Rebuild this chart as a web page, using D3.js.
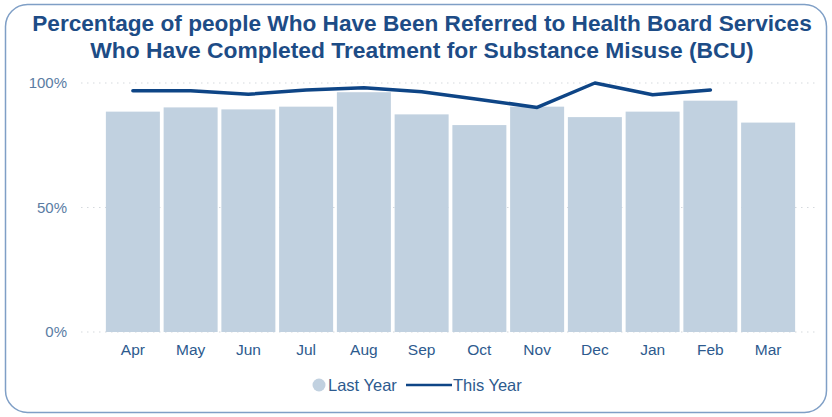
<!DOCTYPE html>
<html>
<head>
<meta charset="utf-8">
<script src="https://cdn.jsdelivr.net/npm/d3@7"></script>
<style>
  html, body { margin: 0; padding: 0; background: #ffffff; }
  svg { display: block; }
</style>
</head>
<body>
<svg id="chart" width="832" height="417"></svg>
<script>
// Monthly completion rates (%)
const months = ["Apr", "May", "Jun", "Jul", "Aug", "Sep", "Oct", "Nov", "Dec", "Jan", "Feb", "Mar"];
const lastYear = [88.5, 90.2, 89.4, 90.5, 96.3, 87.4, 83.1, 90.5, 86.3, 88.5, 92.9, 84.1];
const thisYear = [96.9, 96.9, 95.5, 97.2, 98.1, 96.5, 93.4, 90.2, 100, 95.3, 97.2, null];
const yTicks = [0, 50, 100];
const titleLines = [
  "Percentage of people Who Have Been Referred to Health Board Services",
  "Who Have Completed Treatment for Substance Misuse (BCU)"
];

const svg = d3.select("#chart");
const font = "Liberation Sans, Arial, sans-serif";
const barColor = "#c1d1e0";
const lineColor = "#0e4586";
const titleColor = "#1d4c86";
const labelColor = "#2d5a8e";

// Card frame
svg.append("rect")
  .attr("x", 5.5).attr("y", 4.5)
  .attr("width", 821).attr("height", 408)
  .attr("rx", 22).attr("ry", 22)
  .attr("fill", "#ffffff")
  .attr("stroke", "#7f9fc6")
  .attr("stroke-width", 1.5);

// Title: each line sized to its target width
const titleWidths = [780, 664];
svg.append("g").selectAll("text")
  .data(titleLines)
  .join("text")
  .attr("x", 422)
  .attr("y", (d, i) => 31 + i * 27)
  .attr("text-anchor", "middle")
  .attr("font-family", font)
  .attr("font-weight", "bold")
  .attr("font-size", 20)
  .attr("fill", titleColor)
  .text(d => d)
  .each(function (d, i) {
    const w = this.getComputedTextLength();
    const fs = 20 * titleWidths[i] / w;
    d3.select(this).attr("font-size", fs);
  });

// Scales
const x = d3.scaleBand().domain(months).range([104, 797]).paddingInner(0.065).paddingOuter(0.0325);
const y = d3.scaleLinear().domain([0, 100]).range([332, 83]);

// Gridlines
svg.append("g").selectAll("line")
  .data(yTicks)
  .join("line")
  .attr("x1", 81).attr("x2", 815)
  .attr("y1", d => y(d)).attr("y2", d => y(d))
  .attr("stroke", "#d5d9de")
  .attr("stroke-width", 1.2)
  .attr("stroke-dasharray", "1.5,4.5");

// Y axis labels
const yAxis = svg.append("g")
  .attr("transform", "translate(67,0)")
  .call(d3.axisLeft(y).tickValues(yTicks).tickFormat(d => d + "%").tickSize(0).tickPadding(0));
yAxis.select(".domain").remove();
yAxis.selectAll("text")
  .attr("font-family", font)
  .attr("font-size", 15)
  .attr("fill", "#5a7ca3");

// Bars (last year)
svg.append("g").selectAll("rect")
  .data(months)
  .join("rect")
  .attr("x", d => x(d))
  .attr("width", x.bandwidth())
  .attr("y", (d, i) => y(lastYear[i]))
  .attr("height", (d, i) => y(0) - y(lastYear[i]))
  .attr("fill", barColor);

// Line (this year)
const pts = months.map((m, i) => ({ m, v: thisYear[i] })).filter(d => d.v != null);
svg.append("path")
  .datum(pts)
  .attr("fill", "none")
  .attr("stroke", lineColor)
  .attr("stroke-width", 3.5)
  .attr("stroke-linejoin", "round")
  .attr("stroke-linecap", "round")
  .attr("d", d3.line()
    .x(d => x(d.m) + x.bandwidth() / 2)
    .y(d => y(d.v)));

// X axis labels
const xAxis = svg.append("g")
  .attr("transform", "translate(0,355)")
  .call(d3.axisBottom(x).tickSize(0).tickPadding(0));
xAxis.select(".domain").remove();
xAxis.selectAll("text")
  .attr("dy", "0")
  .attr("font-family", font)
  .attr("font-size", 15.5)
  .attr("fill", labelColor);

// Legend
const lg = svg.append("g").attr("font-family", font).attr("font-size", 16.5).attr("fill", labelColor);
lg.append("circle").attr("cx", 319).attr("cy", 385).attr("r", 6.5).attr("fill", barColor);
lg.append("text").attr("x", 328).attr("y", 391).text("Last Year");
lg.append("line").attr("x1", 406).attr("x2", 452).attr("y1", 385).attr("y2", 385)
  .attr("stroke", lineColor).attr("stroke-width", 2.5);
lg.append("text").attr("x", 453).attr("y", 391).text("This Year");
</script>
</body>
</html>
